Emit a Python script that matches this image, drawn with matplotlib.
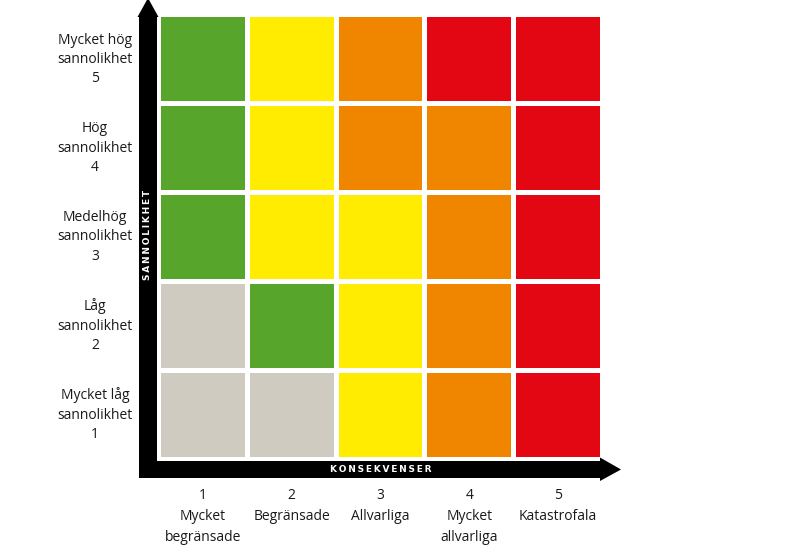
import matplotlib
matplotlib.use("Agg")
import matplotlib.pyplot as plt
from matplotlib.patches import Rectangle, Polygon

# ---- data ----
consequences = ["1\nMycket\nbegränsade", "2\nBegränsade", "3\nAllvarliga",
                "4\nMycket\nallvarliga", "5\nKatastrofala"]
likelihoods = ["Mycket låg\nsannolikhet\n1", "Låg\nsannolikhet\n2",
               "Medelhög\nsannolikhet\n3", "Hög\nsannolikhet\n4",
               "Mycket hög\nsannolikhet\n5"]
# risk level per row (likelihood 1..5), columns = consequence 1..5
risk_row1 = ["grey", "grey", "yellow", "orange", "red"]
risk_row2 = ["grey", "green", "yellow", "orange", "red"]
risk_row3 = ["green", "yellow", "yellow", "orange", "red"]
risk_row4 = ["green", "yellow", "orange", "orange", "red"]
risk_row5 = ["green", "yellow", "orange", "red", "red"]
risk_rows = [risk_row1, risk_row2, risk_row3, risk_row4, risk_row5]
palette = {"grey": "#cfcbc1", "green": "#57a62b", "yellow": "#ffec00",
           "orange": "#f08500", "red": "#e30613"}
x_title = "KONSEKVENSER"
y_title = "SANNOLIKHET"

fam = ["Liberation Sans Narrow", "Open Sans", "DejaVu Sans"]

fig = plt.figure(figsize=(7.92, 5.55), dpi=100)
W, H = 792, 555
ax = fig.add_axes([158.6 / W, (555 - 458.9) / H, 443.8 / W, 443.8 / H])
ax.set_xlim(0.5, 5.5)
ax.set_ylim(0.5, 5.5)
ax.axis("off")

size = 0.946
for j, row in enumerate(risk_rows, start=1):
    for i, lvl in enumerate(row, start=1):
        ax.add_patch(Rectangle((i - size / 2, j - size / 2), size, size,
                               facecolor=palette[lvl], edgecolor="none"))

# axis arrows (axes-fraction coordinates)
T = ax.transAxes
def fx(px):
    return (px - 158.6) / 443.8
def fy(py):
    return (458.9 - py) / 443.8

vbar = Polygon([(fx(139), fy(478)), (fx(157), fy(478)), (fx(157), fy(17)),
                (fx(158.5), fy(17)), (fx(148), fy(-2)), (fx(137.5), fy(17)),
                (fx(139), fy(17))], closed=True, transform=T,
               facecolor="black", edgecolor="none", clip_on=False)
hbar = Polygon([(fx(139), fy(461)), (fx(600), fy(461)), (fx(600), fy(457.5)),
                (fx(621), fy(469.5)), (fx(600), fy(481)), (fx(600), fy(478)),
                (fx(139), fy(478))], closed=True, transform=T,
               facecolor="black", edgecolor="none", clip_on=False)
ax.add_patch(vbar)
ax.add_patch(hbar)

sp = "\u2009"
ax.text(fx(381), fy(469.5), sp.join(x_title), transform=T, color="white",
        fontsize=6.5, fontweight="bold", ha="center", va="center",
        family="DejaVu Sans")
ax.text(fx(148), fy(235), sp.join(y_title), transform=T, color="white",
        fontsize=6.5, fontweight="bold", ha="center", va="center",
        rotation=90, family="DejaVu Sans")

# category labels
for i, lab in enumerate(consequences, start=1):
    ax.text(i, fy(488), lab, transform=ax.get_xaxis_transform(),
            ha="center", va="top", fontsize=10, linespacing=1.55,
            family=fam, color="#1a1a1a")
for j, lab in enumerate(likelihoods, start=1):
    ax.text(fx(95), j, lab, transform=ax.get_yaxis_transform(),
            ha="center", va="center", fontsize=10, linespacing=1.4,
            family=fam, color="#1a1a1a")

fig.savefig("out.png", dpi=100)
